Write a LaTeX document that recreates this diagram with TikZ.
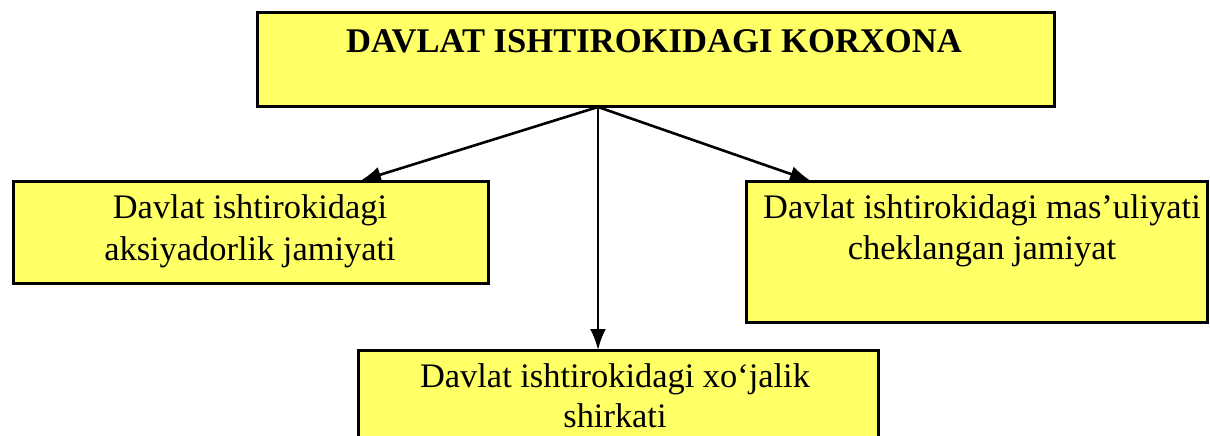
\documentclass[tikz,border=0pt]{standalone}
\usepackage{fontspec}
\setmainfont{Liberation Serif}
\usetikzlibrary{arrows.meta}
\definecolor{boxyellow}{HTML}{FFFF66}
\tikzset{
  box/.style={draw=black, line width=3pt, fill=boxyellow, inner sep=0pt, outer sep=0pt},
  lbl/.style={anchor=base, inner sep=0pt, font=\fontsize{34.4}{41}\selectfont},
  ttl/.style={anchor=base, inner sep=0pt, font=\fontsize{34.6}{41}\selectfont\bfseries},
  arr/.style={line width=2.6pt, -{Latex[length=21pt,width=16pt]}}
}
\begin{document}
\begin{tikzpicture}[x=1pt,y=-1pt]
\useasboundingbox (0,0) rectangle (1210,436);
\clip (0,0) rectangle (1210,436);
% boxes
\node[box, minimum width=797pt, minimum height=93pt] (top) at (655.5,59.5) {};
\node[box, minimum width=475pt, minimum height=102pt] (left) at (250.5,232) {};
\node[box, minimum width=461pt, minimum height=141pt] (right) at (976.5,251.5) {};
\node[box, minimum width=520pt, minimum height=130pt] (bottom) at (618,415) {};
% texts
\node[ttl] (t0) at (654,53) {DAVLAT ISHTIROKIDAGI KORXONA};
\node[lbl] (l1) at (250,218) {Davlat ishtirokidagi};
\node[lbl] (l2) at (250,260) {aksiyadorlik jamiyati};
\node[lbl] (r1) at (982,218) {Davlat ishtirokidagi mas’uliyati};
\node[lbl] (r2) at (982,259) {cheklangan jamiyat};
\node[lbl] (b1) at (615,387) {Davlat ishtirokidagi xo‘jalik};
\node[lbl] (b2) at (615,427) {shirkati};
% connectors
\coordinate (apex) at (598,107);
\coordinate (xl) at (360,0);
\coordinate (xr) at (811,0);
\draw[arr] (apex) -- (left.north -| xl);
\draw[arr] (apex) -- (bottom.north -| apex);
\draw[arr] (apex) -- (right.north -| xr);
\end{tikzpicture}
\end{document}
